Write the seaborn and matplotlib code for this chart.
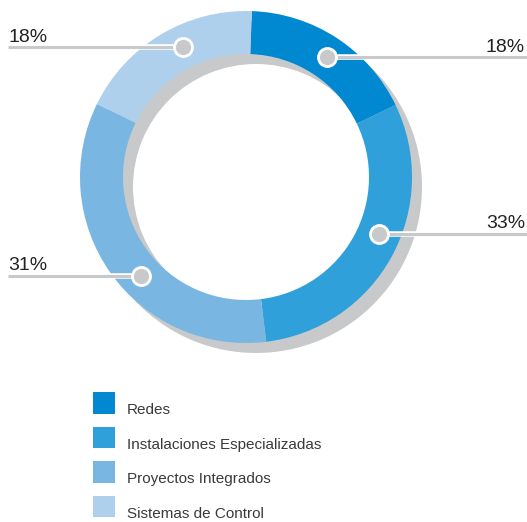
import numpy as np
import matplotlib
matplotlib.use("Agg")
import matplotlib.pyplot as plt
import seaborn as sns
from matplotlib.patches import Rectangle

# ---- data ----
categories = ["Redes", "Instalaciones Especializadas", "Proyectos Integrados", "Sistemas de Control"]
shares = [17.3, 30.2, 34.2, 18.3]          # wedge sizes as drawn in the reference
pct_labels = ["18%", "33%", "31%", "18%"]   # printed labels
colors = ["#0088d1", "#2fa0da", "#7ab6e2", "#aed0ec"]

# ---- layout (pixel space) ----
W, H = 527, 522
sns.set_theme(style="white")
plt.rcParams['font.family'] = ['Liberation Sans', 'DejaVu Sans']
palette = sns.color_palette(colors)

fig = plt.figure(figsize=(W / 100, H / 100), dpi=100)
ax = fig.add_axes([0, 0, 1, 1])

cx, cy = 246, H - 177
R, ring = 166, 43
start = 88
shadow_col = "#c8c9cb"

# shadow ring
ax.pie([1], radius=R, center=(cx + 10, cy - 10), colors=[shadow_col],
       startangle=90, wedgeprops=dict(width=ring, linewidth=0))
# donut
wedges, _ = ax.pie(shares, radius=R, center=(cx, cy), colors=palette,
                   startangle=start, counterclock=False,
                   wedgeprops=dict(width=ring, linewidth=0))

# label leader lines (image y of each leader)
label_y = [57, 234, 276, 47]
rm = R - ring / 2
for w, lab, yimg in zip(wedges, pct_labels, label_y):
    mid = np.deg2rad((w.theta1 + w.theta2) / 2)
    side = 1 if np.cos(mid) > 0 else -1
    ly = H - yimg
    dy = ly - cy
    dot_x = cx + side * np.sqrt(rm ** 2 - dy ** 2)
    if side > 0:
        xs = [dot_x, W]
        tx, ha = 525, "right"
    else:
        xs = [8, dot_x]
        tx, ha = 8, "left"
    ax.plot(xs, [ly, ly], color="white", lw=4.0, solid_capstyle="butt", zorder=5)
    ax.plot(xs, [ly, ly], color=shadow_col, lw=2.2, solid_capstyle="butt", zorder=6)
    ax.plot([dot_x], [ly], marker="o", ms=13, mfc=shadow_col, mec="white", mew=2.0, zorder=7)
    ax.text(tx, ly + 5.5, lab, ha=ha, va="baseline", fontsize=14, color="#222222", zorder=8)

# legend
for i, (cat, col) in enumerate(zip(categories, palette)):
    top = 392 + i * 34.6
    ax.add_patch(Rectangle((93, H - top - 21.5), 22, 21.5, facecolor=col, edgecolor="none"))
    ax.text(127, H - (top + 22), cat, ha="left", va="baseline", fontsize=11, color="#3a3a3a")

ax.set_xlim(0, W)
ax.set_ylim(0, H)
ax.set_aspect("auto")
ax.axis("off")
fig.savefig("out.png", dpi=100)
